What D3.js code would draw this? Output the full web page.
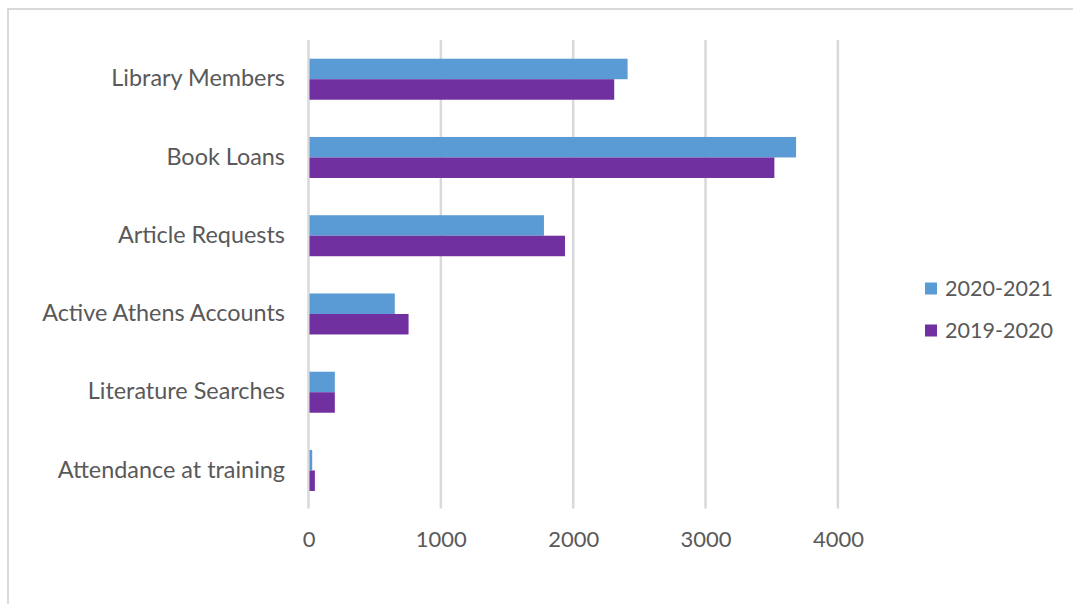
<!DOCTYPE html>
<html>
<head>
<meta charset="utf-8">
<script src="https://cdn.jsdelivr.net/npm/d3@7"></script>
<style>
  html, body { margin: 0; padding: 0; background: #fff; }
  svg { display: block; }
</style>
</head>
<body>
<svg id="chart" width="1073" height="604"></svg>
<script>
// ---- data ----
const categories = ["Library Members", "Book Loans", "Article Requests", "Active Athens Accounts", "Literature Searches", "Attendance at training"];
const seriesNames = ["2020-2021", "2019-2020"];
const values2020_2021 = [2411, 3684, 1779, 652, 199, 28];
const values2019_2020 = [2310, 3520, 1938, 756, 199, 48];
const xTickValues = [0, 1000, 2000, 3000, 4000];
const seriesColors = ["#5B9BD5", "#7030A0"];

// ---- layout ----
const W = 1073, H = 604;
const plot = { left: 308.5, right: 837.9, top: 40.1, bottom: 509.6 };
const textColor = "#595959";
const gridColor = "#d9d9d9";
const fontFamily = "Lato, 'Open Sans', 'Liberation Sans', sans-serif";

const svg = d3.select("#chart");

// chart border
svg.append("rect")
  .attr("x", 8).attr("y", 9)
  .attr("width", W + 20).attr("height", H + 20)
  .attr("fill", "#fff")
  .attr("stroke", gridColor).attr("stroke-width", 2);

const x = d3.scaleLinear().domain([0, 4000]).range([plot.left, plot.right]);
const y = d3.scaleBand().domain(categories).range([plot.top, plot.bottom])
  .paddingInner(0.476).paddingOuter(0.238);
const ySub = d3.scaleBand().domain(seriesNames).range([0, y.bandwidth()]);

// fit font size to a target width
function fitSize(text, target, base) {
  const t = svg.append("text").attr("font-family", fontFamily).attr("font-size", base).text(text);
  const w = t.node().getComputedTextLength();
  t.remove();
  return base * target / w;
}
const catSize = fitSize("Active Athens Accounts", 243, 20);
const tickSize = fitSize("1000", 51, 20);
const legendSize = fitSize("2020-2021", 108, 20);

// gridlines
svg.append("g").selectAll("line")
  .data(xTickValues)
  .join("line")
  .attr("x1", d => x(d)).attr("x2", d => x(d))
  .attr("y1", plot.top).attr("y2", plot.bottom - 1)
  .attr("stroke", gridColor).attr("stroke-width", 2.5);

// bars
const rows = categories.map((c, i) => ({
  cat: c,
  vals: [
    { s: seriesNames[0], v: values2020_2021[i], col: seriesColors[0] },
    { s: seriesNames[1], v: values2019_2020[i], col: seriesColors[1] }
  ]
}));
const groups = svg.append("g").selectAll("g")
  .data(rows).join("g")
  .attr("transform", d => `translate(0,${y(d.cat)})`);
groups.selectAll("rect")
  .data(d => d.vals).join("rect")
  .attr("x", x(0) + 1)
  .attr("y", d => ySub(d.s))
  .attr("width", d => Math.max(0, x(d.v) - x(0) - 1))
  .attr("height", ySub.bandwidth())
  .attr("fill", d => d.col);

// x axis labels
const xAxis = d3.axisBottom(x).tickValues(xTickValues).tickSize(0).tickPadding(0).tickFormat(d3.format("d"));
const xg = svg.append("g").attr("transform", `translate(0,${plot.bottom})`).call(xAxis);
xg.select(".domain").remove();
xg.selectAll("text")
  .attr("y", 29.5).attr("dy", "0.35em")
  .attr("fill", textColor)
  .attr("font-family", fontFamily)
  .attr("font-size", tickSize);

// y axis labels
const yAxis = d3.axisLeft(y).tickSize(0).tickPadding(0);
const yg = svg.append("g").attr("transform", `translate(285,0)`).call(yAxis);
yg.select(".domain").remove();
yg.selectAll("text")
  .attr("x", 0).attr("dy", "0.3em")
  .attr("text-anchor", "end")
  .attr("fill", textColor)
  .attr("font-family", fontFamily)
  .attr("font-size", catSize);

// legend
const legendY = [288.5, 330.5];
const lg = svg.append("g").selectAll("g")
  .data(seriesNames).join("g")
  .attr("transform", (d, i) => `translate(925,${legendY[i]})`);
lg.append("rect")
  .attr("x", 0).attr("y", -6).attr("width", 12).attr("height", 12)
  .attr("fill", (d, i) => seriesColors[i]);
lg.append("text")
  .attr("x", 20).attr("dy", "0.35em")
  .attr("fill", textColor)
  .attr("font-family", fontFamily)
  .attr("font-size", legendSize)
  .text(d => d);
</script>
</body>
</html>
